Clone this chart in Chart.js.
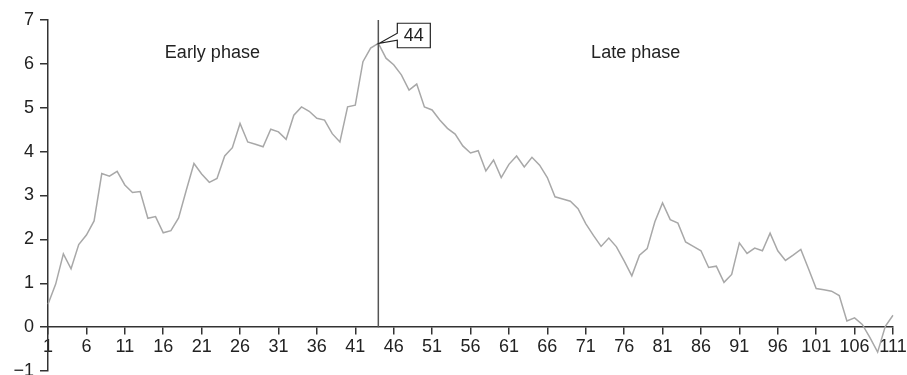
<!DOCTYPE html>
<html>
<head>
<meta charset="utf-8">
<script src="https://cdn.jsdelivr.net/npm/chart.js@4.4.0/dist/chart.umd.min.js"></script>
<style>
  html, body { margin: 0; padding: 0; background: #ffffff; }
  #wrap { width: 907px; height: 375px; position: relative; }
</style>
</head>
<body>
<div id="wrap"><canvas id="c"></canvas></div>
<script>
// ---- data ----
const categories = [];
for (let i = 1; i <= 111; i++) categories.push(String(i));

const values = [
  0.52, 0.98, 1.67, 1.33, 1.88, 2.10, 2.42, 3.50, 3.44, 3.55,
  3.24, 3.07, 3.09, 2.48, 2.52, 2.15, 2.20, 2.49, 3.12, 3.73,
  3.49, 3.30, 3.39, 3.90, 4.09, 4.64, 4.22, 4.17, 4.11, 4.51,
  4.45, 4.28, 4.83, 5.02, 4.92, 4.76, 4.72, 4.41, 4.22, 5.02,
  5.06, 6.05, 6.36, 6.47, 6.13, 5.98, 5.75, 5.40, 5.54, 5.02,
  4.95, 4.72, 4.53, 4.40, 4.13, 3.97, 4.02, 3.56, 3.81, 3.41,
  3.71, 3.90, 3.65, 3.87, 3.69, 3.41, 2.97, 2.92, 2.87, 2.70,
  2.36, 2.09, 1.84, 2.03, 1.83, 1.51, 1.17, 1.64, 1.79, 2.40,
  2.83, 2.45, 2.37, 1.94, 1.84, 1.74, 1.36, 1.39, 1.02, 1.20,
  1.92, 1.68, 1.80, 1.74, 2.14, 1.74, 1.52, 1.64, 1.77, 1.33,
  0.88, 0.85, 0.82, 0.72, 0.14, 0.21, 0.06, -0.24, -0.57, 0.02,
  0.27
];

const xTickLabels = ['1','6','11','16','21','26','31','36','41','46','51','56','61','66','71','76','81','86','91','96','101','106','111'];
const yMin = -1, yMax = 7;

const markerCategory = '44';
const markerLabel = '44';
const phaseLabels = [
  { text: 'Early phase', x: 22.4, y: 6.25 },
  { text: 'Late phase',  x: 77.5, y: 6.25 }
];

// ---- drawing ----
const FONT = '"Liberation Sans", Arial, Helvetica, sans-serif';
const AXIS = '#333333';
const TEXT = '#222222';

const overlay = {
  id: 'overlay',
  afterDatasetsDraw(chart) {
    const ctx = chart.ctx;
    const xs = chart.scales.x, ys = chart.scales.y;
    const idx = categories.indexOf(markerCategory);
    const px = xs.getPixelForValue(idx);
    const py = ys.getPixelForValue(values[idx]);
    const top = chart.chartArea.top;
    const zero = ys.getPixelForValue(0);

    ctx.save();
    // vertical marker line
    ctx.strokeStyle = '#555555';
    ctx.lineWidth = 1.5;
    ctx.beginPath();
    ctx.moveTo(px, top);
    ctx.lineTo(px, zero);
    ctx.stroke();

    // callout
    const bx = px + 19, by = py - 20, bw = 33, bh = 24.5;
    ctx.beginPath();
    ctx.moveTo(bx, by);
    ctx.lineTo(bx + bw, by);
    ctx.lineTo(bx + bw, by + bh);
    ctx.lineTo(bx, by + bh);
    ctx.lineTo(bx, by + 17);
    ctx.lineTo(px + 1, py);
    ctx.lineTo(bx, by + 10);
    ctx.closePath();
    ctx.fillStyle = '#ffffff';
    ctx.fill();
    ctx.strokeStyle = '#222222';
    ctx.lineWidth = 1.2;
    ctx.stroke();
    ctx.fillStyle = TEXT;
    ctx.font = '18px ' + FONT;
    ctx.textAlign = 'center';
    ctx.textBaseline = 'middle';
    ctx.fillText(markerLabel, bx + bw / 2, by + bh / 2 + 1);

    // phase labels
    phaseLabels.forEach(p => {
      ctx.fillText(p.text, xs.getPixelForValue(p.x - 1), ys.getPixelForValue(p.y));
    });
    ctx.restore();
  }
};

new Chart(document.getElementById('c'), {
  type: 'line',
  data: {
    labels: categories,
    datasets: [{
      data: values,
      borderColor: '#a8a8a8',
      borderWidth: 1.5,
      pointRadius: 0,
      tension: 0,
      fill: false
    }]
  },
  options: {
    responsive: true,
    maintainAspectRatio: false,
    animation: false,
    events: [],
    layout: { padding: { left: 0, right: 14, top: 20, bottom: 4 } },
    plugins: { legend: { display: false }, tooltip: { enabled: false } },
    scales: {
      x: {
        type: 'category',
        position: { y: 0 },
        offset: false,
        grid: { display: true, drawOnChartArea: false, drawTicks: true, tickLength: 7, color: AXIS, lineWidth: 1.5 },
        border: { display: true, color: AXIS, width: 1.5 },
        ticks: {
          autoSkip: false, maxRotation: 0, minRotation: 0, padding: 2,
          color: TEXT, font: { family: FONT, size: 18 },
          callback: function(v, i) { return xTickLabels.includes(categories[i]) ? categories[i] : null; }
        },
        afterFit(s) { s.paddingLeft = 0; s.paddingRight = 0; }
      },
      y: {
        min: yMin, max: yMax,
        grid: { display: true, drawOnChartArea: false, drawTicks: true, tickLength: 8, color: AXIS, lineWidth: 1.5 },
        border: { display: true, color: AXIS, width: 1.5 },
        ticks: {
          stepSize: 1, padding: 6, color: TEXT, font: { family: FONT, size: 18 },
          callback: v => v < 0 ? '\u2212' + Math.abs(v) : String(v)
        },
        afterFit(s) { s.paddingTop = 0; s.paddingBottom = 0; s.width = 48; }
      }
    }
  },
  plugins: [overlay]
});
</script>
</body>
</html>
